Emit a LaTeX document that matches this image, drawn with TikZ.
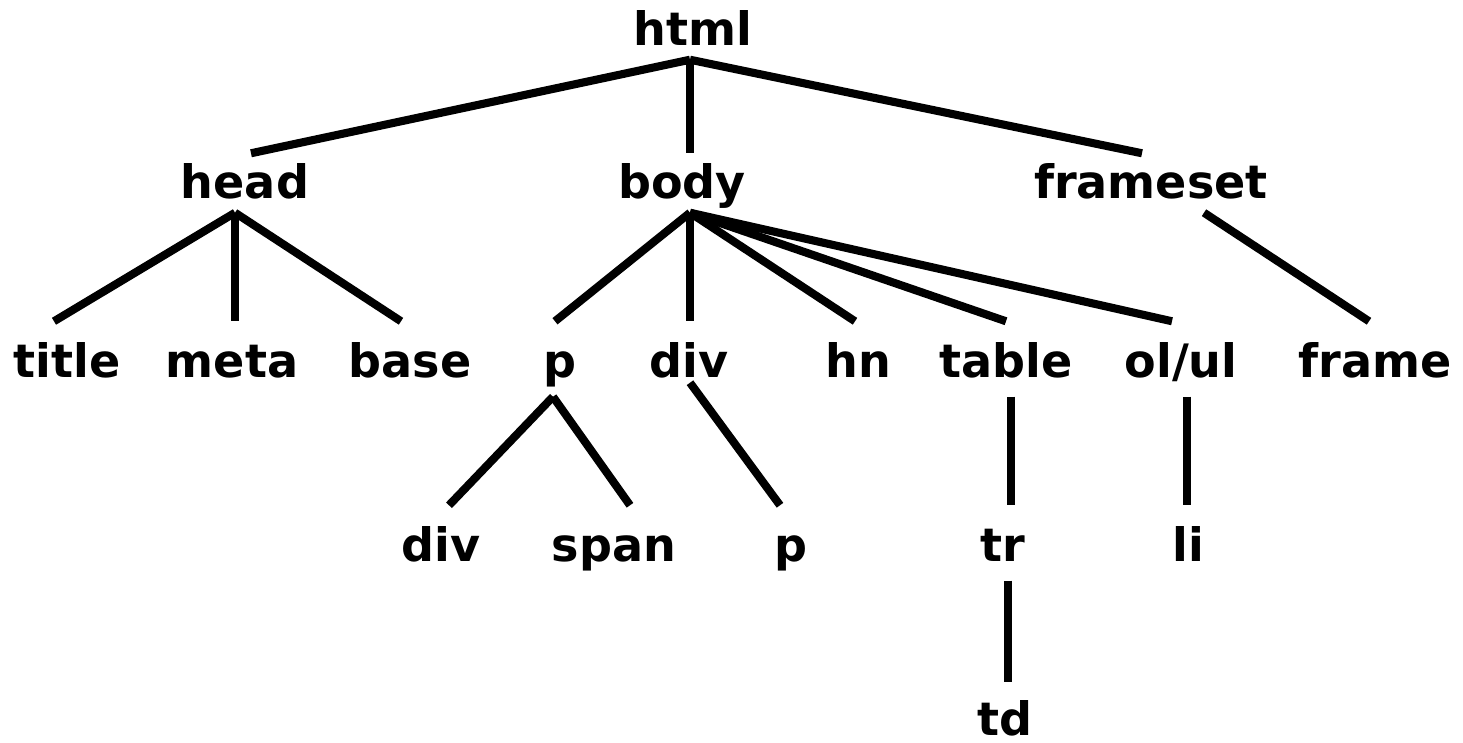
\documentclass[tikz,border=0pt]{standalone}
\usepackage{fontspec}
\setmainfont{DejaVu Sans}
\usepackage{tikz}
\usetikzlibrary{calc}
\tikzset{
    tag/.style={font=\fontsize{13.1}{15}\selectfont\bfseries, anchor=base, inner xsep=0pt, inner ysep=0.09cm, text height=0.46cm, text depth=0.10cm},
    uptag/.style={tag, inner ysep=0.04cm, text height=0.40cm},
    leaftag/.style={tag, inner ysep=0pt, text height=0.52cm, text depth=0pt},
    branch/.style={line width=2.3pt}
}

\begin{document}
\begin{tikzpicture}[x=0.01cm, y=-0.01cm]
    \useasboundingbox (0,0) rectangle (1463,742);
    % Root and first level
    \node[uptag] (html) at (693,45) {html};
    \node[uptag] (head) at (245,198) {head};
    \node[uptag] (body) at (682,198) {body};
    \node[uptag] (frameset) at (1151,198) {frameset};
    % Second level
    \node[tag] (title) at (67,377) {title};
    \node[tag] (meta) at (232,377) {meta};
    \node[tag] (base) at (410,377) {base};
    \node[tag] (p) at (560,377) {p};
    \node[tag] (div) at (689,377) {div};
    \node[tag] (hn) at (858,377) {hn};
    \node[tag] (table) at (1006,377) {table};
    \node[tag] (olul) at (1181,377) {ol/ul};
    \node[tag] (frame) at (1375,377) {frame};
    % Third and fourth level
    \node[tag] (pdiv) at (441,561) {div};
    \node[tag] (pspan) at (614,561) {span};
    \node[tag] (divp) at (791,561) {p};
    \node[tag] (tr) at (1003,561) {tr};
    \node[tag] (li) at (1188,561) {li};
    \node[leaftag] (td) at (1005,735) {td};
    % html branches
    \draw[branch] ($(html.south)+(-3,0)$) -- ($(head.north)+(6,0)$);
    \draw[branch] ($(html.south)+(-3,0)$) -- ($(body.north)+(8,0)$);
    \draw[branch] ($(html.south)+(-3,0)$) -- ($(frameset.north)+(-9,0)$);
    % head branches
    \draw[branch] ($(head.south)+(-10,0)$) -- ($(title.north)+(-13,0)$);
    \draw[branch] ($(head.south)+(-10,0)$) -- ($(meta.north)+(3,0)$);
    \draw[branch] ($(head.south)+(-10,0)$) -- ($(base.north)+(-9,0)$);
    % body branches
    \draw[branch] ($(body.south)+(8,0)$) -- ($(p.north)+(-5,0)$);
    \draw[branch] ($(body.south)+(8,0)$) -- ($(div.north)+(1,0)$);
    \draw[branch] ($(body.south)+(8,0)$) -- ($(hn.north)+(-3,0)$);
    \draw[branch] ($(body.south)+(8,0)$) -- (table.north);
    \draw[branch] ($(body.south)+(8,0)$) -- ($(olul.north)+(-9,0)$);
    % frameset branch
    \draw[branch] ($(frameset.south)+(53,0)$) -- ($(frame.north)+(-6,0)$);
    % lower branches
    \draw[branch] ($(p.south)+(-7,0)$) -- ($(pdiv.north)+(8,0)$);
    \draw[branch] ($(p.south)+(-7,0)$) -- ($(pspan.north)+(16,0)$);
    \draw[branch] ($(div.south)+(1,-14)$) -- ($(divp.north)+(-11,0)$);
    \draw[branch] ($(table.south)+(5,0)$) -- ($(tr.north)+(8,0)$);
    \draw[branch] ($(olul.south)+(6,0)$) -- ($(li.north)+(-1,0)$);
    \draw[branch] ($(tr.south)+(5,0)$) -- ($(td.north)+(3,0)$);
\end{tikzpicture}
\end{document}
